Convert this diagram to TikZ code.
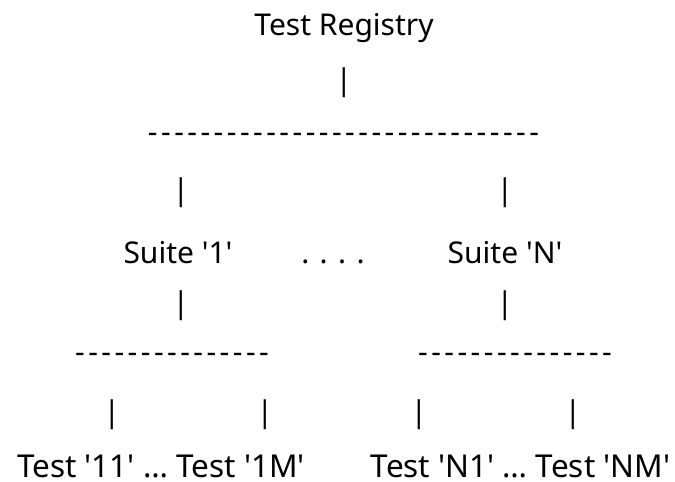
\documentclass[tikz,border=0pt]{standalone}
\usepackage{fontspec}
\setmainfont{Noto Sans}[Ligatures=TeXOff]
\newcommand\hyrow[1]{\foreach \i in {1,...,#1}{\makebox[13.15pt]{-}}}
\begin{document}
\begin{tikzpicture}[x=1pt,y=-1pt,
  txt/.style={font=\fontsize{30}{36}\selectfont, inner sep=0pt, outer sep=0pt, anchor=base},
  leaf/.style={txt, font=\fontsize{31.5}{36}\selectfont},
  pipe/.style={font=\fontsize{30}{36}\selectfont, inner sep=0pt, outer sep=0pt, anchor=center},
  dashes/.style={font=\fontsize{30}{36}\selectfont, inner sep=0pt, outer sep=0pt, anchor=center}]
\useasboundingbox (0,0) rectangle (675,482);
% level 0
\node[txt] (reg) at (344,35) {Test Registry};
\node[pipe] (b0) at (344,83) {|};
\node[dashes] (d0) at (343.5,138) {\hyrow{30}};
% level 1
\node[pipe] (b1l) at (181,193) {|};
\node[pipe] (b1r) at (505,193) {|};
\node[txt] (s1) at (178,263) {Suite '1'};
\node[txt] (dots) at (333,263) {. . . .};
\node[txt] (sN) at (505,263) {Suite 'N'};
\node[pipe] (b2l) at (181,306) {|};
\node[pipe] (b2r) at (505,306) {|};
% level 2
\node[dashes] (dl) at (172,358) {\hyrow{15}};
\node[dashes] (dr) at (515,358) {\hyrow{15}};
\node[pipe] (b3a) at (112,415) {|};
\node[pipe] (b3b) at (265,415) {|};
\node[pipe] (b3c) at (419,415) {|};
\node[pipe] (b3d) at (573,415) {|};
\node[leaf] (t1) at (161,477) {Test '11' … Test '1M'};
\node[leaf] (tN) at (520.5,477) {Test 'N1' … Test 'NM'};
\end{tikzpicture}
\end{document}
